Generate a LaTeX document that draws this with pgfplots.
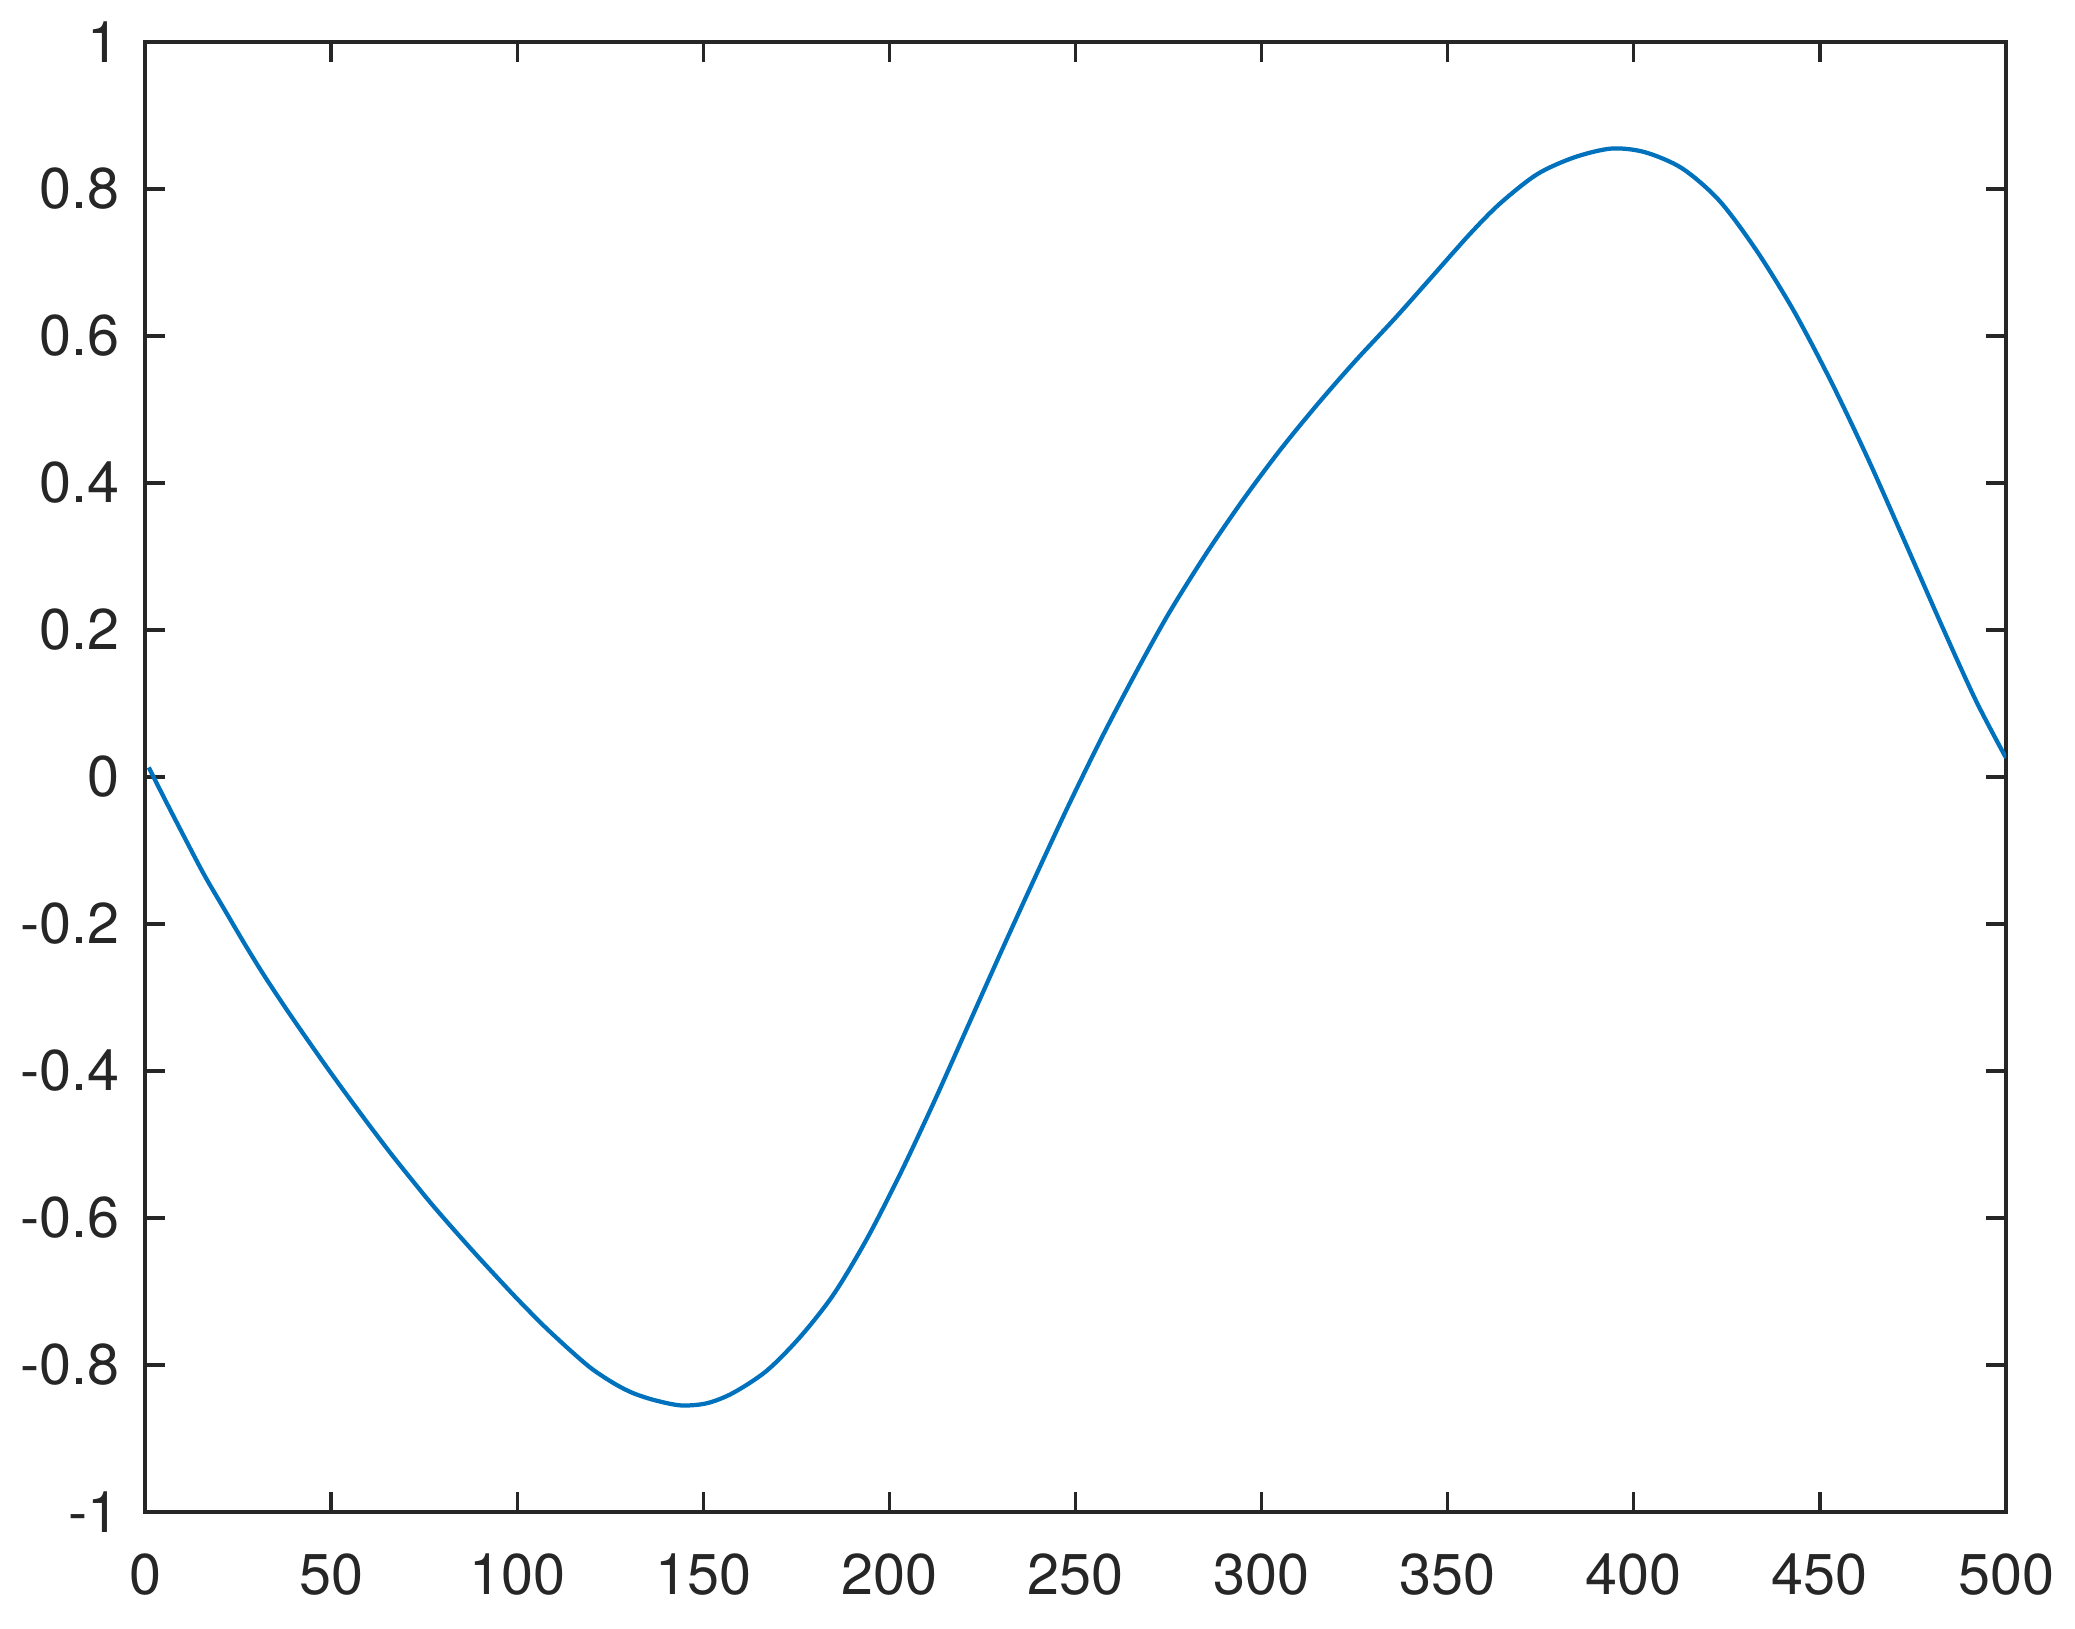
\documentclass[border=0pt]{standalone}
\usepackage{fontspec}
\setmainfont{TeX Gyre Heros}
\usepackage{pgfplots}
\pgfplotsset{compat=1.18}
\definecolor{mblue}{HTML}{0072BD}
\definecolor{axgray}{HTML}{262626}

\begin{document}
\begin{tikzpicture}
\begin{axis}[
  scale only axis,
  width=372.2pt, height=294pt,
  xmin=0, xmax=500, ymin=-1, ymax=1,
  xtick={0,50,100,150,200,250,300,350,400,450,500},
  ytick={-1,-0.8,-0.6,-0.4,-0.2,0,0.2,0.4,0.6,0.8,1},
  tick align=inside,
  major tick length=4pt,
  axis line style={draw=axgray, line width=0.66pt},
  tick style={draw=axgray, line width=0.66pt},
  every tick label/.append style={font=\fontsize{11.5}{13}\selectfont, text=axgray},
  /pgf/number format/assume math mode=true,
  xticklabel style={yshift=-4.8pt},
  yticklabel style={xshift=-1.6pt},
]
\coordinate (O) at (rel axis cs:0,0);
\addplot[color=mblue, line width=0.85pt, smooth] coordinates {
  (1,0.013) (6,-0.037) (11,-0.086) (16,-0.134) (22,-0.186) (27,-0.229)
  (32,-0.270) (38,-0.316) (44,-0.360) (49,-0.396) (54,-0.431) (60,-0.472)
  (66,-0.512) (72,-0.550) (77,-0.581) (83,-0.616) (89,-0.650) (95,-0.683)
  (100,-0.710) (107,-0.746) (114,-0.779) (120,-0.805) (126,-0.825) (131,-0.838)
  (137,-0.848) (144,-0.855) (151,-0.852) (158,-0.838) (167,-0.808) (176,-0.762)
  (185,-0.704) (194,-0.628) (203,-0.539) (212,-0.442) (221,-0.340) (230,-0.238)
  (239,-0.138) (248,-0.040) (257,0.053) (266,0.140) (275,0.222) (285,0.303)
  (295,0.377) (305,0.445) (315,0.507) (325,0.565) (336,0.625) (346,0.682)
  (356,0.739) (364,0.780) (374,0.820) (384,0.843) (394,0.855) (403,0.850)
  (413,0.828) (423,0.784) (433,0.716) (443,0.634) (453,0.538) (463,0.432)
  (473,0.318) (483,0.203) (492,0.103) (500,0.026)
};
\end{axis}
\path ([xshift=-29pt,yshift=-23.4pt]O) rectangle ++(415pt,325.8pt);
\end{tikzpicture}
\end{document}
